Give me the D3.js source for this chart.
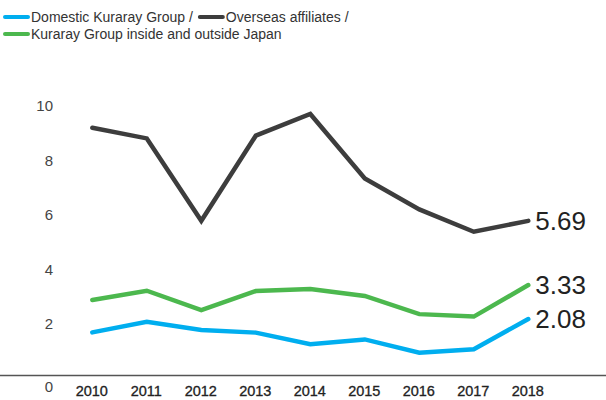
<!DOCTYPE html>
<html>
<head>
<meta charset="utf-8">
<script src="https://cdn.jsdelivr.net/npm/d3@7"></script>
<style>
  body { margin: 0; background: #fff; }
  text { font-family: "Liberation Sans", Arial, sans-serif; }
</style>
</head>
<body>
<div id="chart"></div>
<script>
var years = [2010, 2011, 2012, 2013, 2014, 2015, 2016, 2017, 2018];
var domestic = [1.59, 1.98, 1.68, 1.58, 1.15, 1.33, 0.84, 0.97, 2.08];
var overseas = [9.11, 8.72, 5.69, 8.82, 9.62, 7.25, 6.11, 5.29, 5.69];
var groupAll = [2.78, 3.12, 2.41, 3.11, 3.18, 2.93, 2.26, 2.17, 3.33];
var yTicks = [0, 2, 4, 6, 8, 10];
var endLabels = ['2.08', '5.69', '3.33'];

var width = 606, height = 400;
var colors = { domestic: '#00aeef', overseas: '#3d3d3d', all: '#4cb84e' };

var series = [
  { key: 'domestic', values: domestic, color: colors.domestic, label: endLabels[0] },
  { key: 'overseas', values: overseas, color: colors.overseas, label: endLabels[1] },
  { key: 'all', values: groupAll, color: colors.all, label: endLabels[2] }
];

var xScale = d3.scaleLinear().domain([2010, 2018]).range([92.3, 528.3]);
var yScale = d3.scaleLinear().domain([0, 10]).range([375.6, 103.6]);

var svg = d3.select('#chart').append('svg')
  .attr('width', width)
  .attr('height', height);

// baseline
svg.append('line')
  .attr('x1', 0).attr('x2', width)
  .attr('y1', yScale(0)).attr('y2', yScale(0))
  .attr('stroke', '#555').attr('stroke-width', 1.5);

// y axis labels
var yAxis = d3.axisLeft(yScale).tickValues(yTicks).tickSize(0).tickPadding(0);
var gy = svg.append('g').attr('transform', 'translate(53,0)').call(yAxis);
gy.select('.domain').remove();
gy.selectAll('text')
  .attr('fill', '#444')
  .style('font-size', '15px')
  .style('font-family', '"Liberation Sans", Arial, sans-serif')
  .attr('dy', d => d === 0 ? '1.05em' : '0.48em');

// x axis labels
var xAxis = d3.axisBottom(xScale).tickValues(years).tickFormat(d3.format('d')).tickSize(0).tickPadding(0);
var gx = svg.append('g').attr('transform', 'translate(-1,' + 391 + ')').call(xAxis);
gx.select('.domain').remove();
gx.selectAll('text')
  .attr('y', 0)
  .attr('dy', '0.36em')
  .attr('fill', '#222')
  .style('font-size', '14.5px')
  .style('font-family', '"Liberation Sans", Arial, sans-serif')
  .style('stroke', '#222')
  .style('stroke-width', 0.3);

// lines
var lineGen = d3.line()
  .x((d, i) => xScale(years[i]))
  .y(d => yScale(d));

svg.selectAll('.series')
  .data(series)
  .join('path')
  .attr('class', 'series')
  .attr('d', d => lineGen(d.values))
  .attr('fill', 'none')
  .attr('stroke', d => d.color)
  .attr('stroke-width', 4.5)
  .attr('stroke-linejoin', 'miter')
  .attr('stroke-linecap', 'round');

// end value labels
svg.selectAll('.endlabel')
  .data(series)
  .join('text')
  .attr('class', 'endlabel')
  .attr('x', xScale(2018) + 7)
  .attr('y', d => yScale(d.values[d.values.length - 1]))
  .attr('dy', '0.35em')
  .attr('fill', '#222')
  .style('font-size', '26px')
  .text(d => d.label);

// legend
var legendRows = [
  [{ color: colors.domestic, text: 'Domestic Kuraray Group /' },
   { color: colors.overseas, text: 'Overseas affiliates /' }],
  [{ color: colors.all, text: 'Kuraray Group inside and outside Japan' }]
];
legendRows.forEach(function(row, r) {
  var x = 4, y = 17 + r * 17;
  row.forEach(function(item) {
    svg.append('line')
      .attr('x1', x + 1).attr('x2', x + 24)
      .attr('y1', y).attr('y2', y)
      .attr('stroke', item.color).attr('stroke-width', 4)
      .attr('stroke-linecap', 'round');
    var t = svg.append('text')
      .attr('x', x + 27).attr('y', y)
      .attr('dy', '0.36em')
      .attr('fill', '#333')
      .style('font-size', '14px')
      .text(item.text);
    x = x + 27 + t.node().getComputedTextLength() + 6;
  });
});
</script>
</body>
</html>
